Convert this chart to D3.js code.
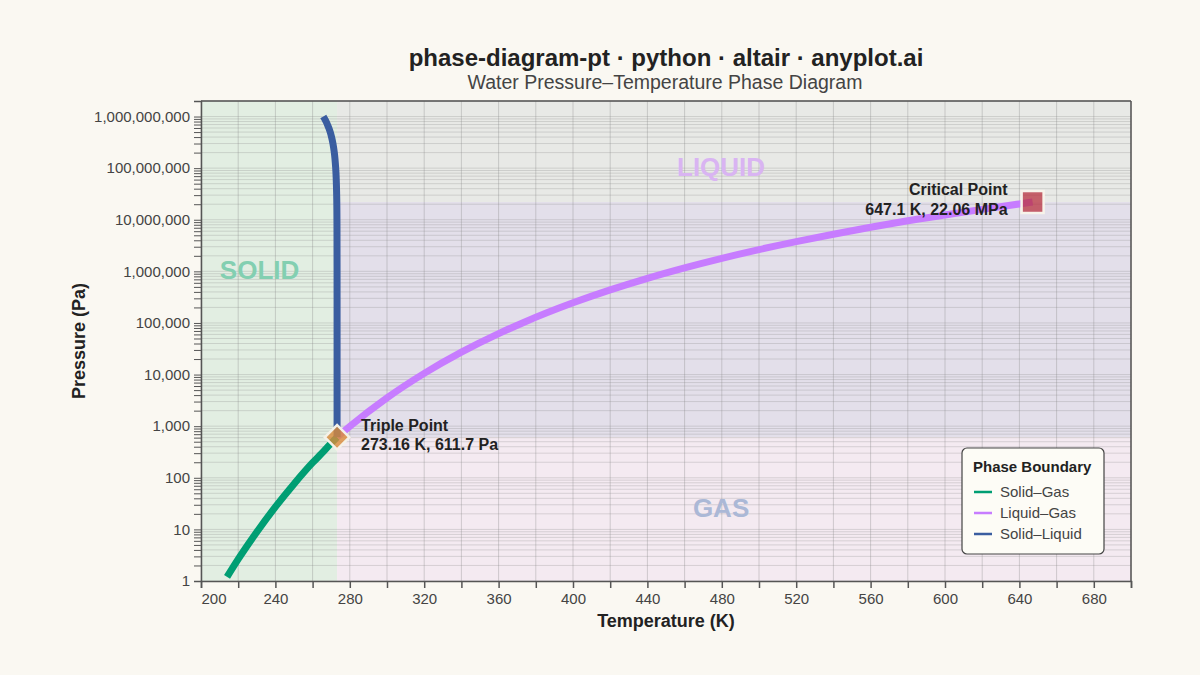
<!DOCTYPE html>
<html>
<head>
<meta charset="utf-8">
<script src="https://cdn.jsdelivr.net/npm/d3@7"></script>
<style>
  body { margin: 0; background: #faf8f2; }
  svg text { font-family: "Liberation Sans", Arial, sans-serif; }
</style>
</head>
<body>
<svg id="chart" width="1200" height="675"></svg>
<script>
// ---- data ----
const sublimationT = [214, 220, 230, 240, 250, 260, 265, 270, 273.16];
const sublimationP = [1.2, 2.65, 8.9, 27.3, 76.0, 195.8, 300, 470, 611.7];

const vaporT = [273.16, 280, 300, 320, 340, 360, 373.15, 400, 420, 440, 460, 480, 500, 520, 540, 560, 580, 600, 620, 640, 647.1];
const vaporP = [611.7, 991, 3537, 10546, 27190, 62140, 101325, 245600, 437300, 733600, 1.17e6, 1.79e6, 2.64e6, 3.77e6, 5.24e6, 7.14e6, 9.55e6, 12.34e6, 15.90e6, 20.27e6, 22.06e6];

const meltP = [611.7, 1e4, 1e5, 1e6, 1e7, 3e7, 1e8, 2e8, 3e8, 4e8, 5e8, 6e8, 7e8, 8e8, 9e8, 1e9];
const meltT = [273.16, 273.16, 273.16, 273.15, 273.09, 272.94, 272.42, 271.68, 270.94, 270.2, 269.46, 268.72, 267.97, 267.23, 266.49, 265.75];

const triplePoint = {T: 273.16, P: 611.7};
const criticalPoint = {T: 647.1, P: 22.06e6};

const seriesNames = ["Solid–Gas", "Liquid–Gas", "Solid–Liquid"];
const seriesColors = ["#009E73", "#C77CFF", "#3A5DA0"];

const xDomain = [200, 700];
const yDomain = [1, 2e9];
const xTicks = d3.range(200, 701, 20);
const yLabelTicks = [1, 10, 100, 1e3, 1e4, 1e5, 1e6, 1e7, 1e8, 1e9];

// ---- layout ----
const svg = d3.select("#chart");
const W = 1200, H = 675;
const m = {left: 201, right: 1131, top: 101, bottom: 581};

svg.append("rect").attr("width", W).attr("height", H).attr("fill", "#faf8f2");

const x = d3.scaleLinear().domain(xDomain).range([m.left, m.right]);
const y = d3.scaleLog().domain(yDomain).range([m.bottom, m.top]);

// regions
const regions = [
  {x0: 200, x1: triplePoint.T, y0: 1, y1: 2e9, fill: "#e2eee2"},
  {x0: triplePoint.T, x1: 700, y0: triplePoint.P, y1: criticalPoint.P, fill: "#e3dfea"},
  {x0: triplePoint.T, x1: 700, y0: 1, y1: triplePoint.P, fill: "#f4eaf1"},
  {x0: triplePoint.T, x1: 700, y0: criticalPoint.P, y1: 2e9, fill: "#e8e9e6"}
];
svg.append("g").selectAll("rect").data(regions).join("rect")
  .attr("x", d => x(d.x0)).attr("width", d => x(d.x1) - x(d.x0))
  .attr("y", d => y(d.y1)).attr("height", d => y(d.y0) - y(d.y1))
  .attr("fill", d => d.fill);

// grid
const yAllTicks = [];
for (let e = 0; e <= 9; e++) for (let k = 1; k <= 9; k++) {
  const v = k * Math.pow(10, e);
  if (v <= 2e9) yAllTicks.push(v);
}
yAllTicks.push(2e9);
const grid = svg.append("g");
grid.selectAll("line.h").data(yAllTicks).join("line")
  .attr("x1", m.left).attr("x2", m.right)
  .attr("y1", d => y(d)).attr("y2", d => y(d))
  .attr("stroke", "#888").attr("stroke-opacity", 0.28).attr("stroke-width", 1);
grid.selectAll("line.v").data(xTicks).join("line")
  .attr("y1", m.top).attr("y2", m.bottom)
  .attr("x1", d => x(d)).attr("x2", d => x(d))
  .attr("stroke", "#888").attr("stroke-opacity", 0.35).attr("stroke-width", 1);

// region labels
const regionLabels = [
  {t: "SOLID", T: 231.5, P: 1.07e6, c: "#83cfb1"},
  {t: "LIQUID", T: 479.6, P: 1.05e8, c: "#d9b4f2"},
  {t: "GAS", T: 479.6, P: 26, c: "#abb8d6"}
];
svg.append("g").selectAll("text").data(regionLabels).join("text")
  .attr("x", d => x(d.T)).attr("y", d => y(d.P))
  .attr("text-anchor", "middle").attr("dominant-baseline", "central")
  .attr("font-size", 26).attr("font-weight", "bold")
  .attr("fill", d => d.c).text(d => d.t);

// curves
const line = d3.line().x(d => x(d[0])).y(d => y(d[1])).curve(d3.curveMonotoneX);
const lineY = d3.line().x(d => x(d[0])).y(d => y(d[1])).curve(d3.curveMonotoneY);
const subl = sublimationT.map((t, i) => [t, sublimationP[i]]);
const vap = vaporT.map((t, i) => [t, vaporP[i]]);
const melt = meltT.map((t, i) => [t, meltP[i]]);

svg.append("path").attr("d", line(subl)).attr("fill", "none")
  .attr("stroke", seriesColors[0]).attr("stroke-width", 7);
svg.append("path").attr("d", line(vap)).attr("fill", "none")
  .attr("stroke", seriesColors[1]).attr("stroke-width", 7);
svg.append("path").attr("d", lineY(melt.slice().reverse())).attr("fill", "none")
  .attr("stroke", seriesColors[2]).attr("stroke-width", 7);

// triple point diamond
svg.append("path")
  .attr("d", d3.symbol(d3.symbolSquare, 300)())
  .attr("transform", `translate(${x(triplePoint.T)},${y(triplePoint.P)}) rotate(45)`)
  .attr("fill", "#D98B3A").attr("fill-opacity", 0.8)
  .attr("stroke", "#f4f1e8").attr("stroke-width", 2.5);

// critical point square
svg.append("rect")
  .attr("x", x(criticalPoint.T) - 11).attr("y", y(criticalPoint.P) - 11)
  .attr("width", 22).attr("height", 22)
  .attr("fill", "#B8323F").attr("fill-opacity", 0.75)
  .attr("stroke", "#f7f3ea").attr("stroke-width", 2.5);

// annotations
const ann = svg.append("g").attr("font-size", 16).attr("font-weight", "bold").attr("fill", "#222");
ann.append("text").attr("x", x(triplePoint.T) + 24).attr("y", y(triplePoint.P) - 6).text("Triple Point");
ann.append("text").attr("x", x(triplePoint.T) + 24).attr("y", y(triplePoint.P) + 13).text("273.16 K, 611.7 Pa");
ann.append("text").attr("x", x(criticalPoint.T) - 25).attr("y", y(criticalPoint.P) - 7).attr("text-anchor", "end").text("Critical Point");
ann.append("text").attr("x", x(criticalPoint.T) - 25).attr("y", y(criticalPoint.P) + 13).attr("text-anchor", "end").text("647.1 K, 22.06 MPa");

// axes
const xAxis = d3.axisBottom(x).tickValues(xTicks).tickSize(7).tickPadding(5)
  .tickFormat((d, i) => i % 2 === 0 ? d3.format("d")(d) : "");
const gx = svg.append("g").attr("transform", `translate(0,${m.bottom})`).call(xAxis);
gx.select(".domain").attr("stroke", "#555").attr("stroke-width", 1.5);
gx.selectAll(".tick line").attr("stroke", "#555").attr("stroke-width", 1.5);
gx.selectAll(".tick text").attr("font-size", 15).attr("fill", "#444")
  .attr("font-family", "Liberation Sans, Arial, sans-serif")
  .attr("text-anchor", d => d === 200 ? "start" : "middle");

const yAxis = d3.axisLeft(y).tickValues(yAllTicks).tickSize(7).tickPadding(4)
  .tickFormat(d => yLabelTicks.includes(d) ? d3.format(",")(d) : "");
const gy = svg.append("g").attr("transform", `translate(${m.left},0)`).call(yAxis);
gy.select(".domain").attr("stroke", "#555").attr("stroke-width", 1.5);
gy.selectAll(".tick line").attr("stroke", "#555").attr("stroke-width", 1);
gy.selectAll(".tick text").attr("font-size", 15).attr("fill", "#444")
  .attr("font-family", "Liberation Sans, Arial, sans-serif")
  .attr("dy", "0.32em");

// frame top/right
svg.append("line").attr("x1", m.left).attr("x2", m.right).attr("y1", m.top).attr("y2", m.top).attr("stroke", "#555").attr("stroke-width", 1.5);
svg.append("line").attr("x1", m.right).attr("x2", m.right).attr("y1", m.top).attr("y2", m.bottom).attr("stroke", "#555").attr("stroke-width", 1.5);

// axis titles
svg.append("text").attr("x", (m.left + m.right) / 2).attr("y", 627).attr("text-anchor", "middle")
  .attr("font-size", 18).attr("font-weight", "bold").attr("fill", "#222").text("Temperature (K)");
svg.append("text").attr("transform", `translate(85,${(m.top + m.bottom) / 2}) rotate(-90)`)
  .attr("text-anchor", "middle").attr("font-size", 18).attr("font-weight", "bold").attr("fill", "#222").text("Pressure (Pa)");

// titles
svg.append("text").attr("x", (m.left + m.right) / 2).attr("y", 66).attr("text-anchor", "middle")
  .attr("font-size", 24).attr("font-weight", "bold").attr("fill", "#222")
  .text("phase-diagram-pt · python · altair · anyplot.ai");
svg.append("text").attr("x", (m.left + m.right) / 2 - 1).attr("y", 89).attr("text-anchor", "middle")
  .attr("font-size", 19.5).attr("fill", "#444")
  .text("Water Pressure–Temperature Phase Diagram");

// legend
const lg = svg.append("g").attr("transform", "translate(962,448)");
lg.append("rect").attr("width", 142).attr("height", 106).attr("rx", 5)
  .attr("fill", "#fdfcf6").attr("stroke", "#444").attr("stroke-width", 1.2);
lg.append("text").attr("x", 11).attr("y", 24).attr("font-size", 15).attr("font-weight", "bold").attr("fill", "#222").text("Phase Boundary");
const items = lg.selectAll("g.item").data(seriesNames).join("g")
  .attr("transform", (d, i) => `translate(0,${44 + i * 21})`);
items.append("line").attr("x1", 12).attr("x2", 30).attr("y1", 0).attr("y2", 0)
  .attr("stroke", (d, i) => seriesColors[i]).attr("stroke-width", 2.5);
items.append("text").attr("x", 38).attr("y", 0).attr("dy", "0.35em")
  .attr("font-size", 15).attr("fill", "#444").text(d => d);
</script>
</body>
</html>
